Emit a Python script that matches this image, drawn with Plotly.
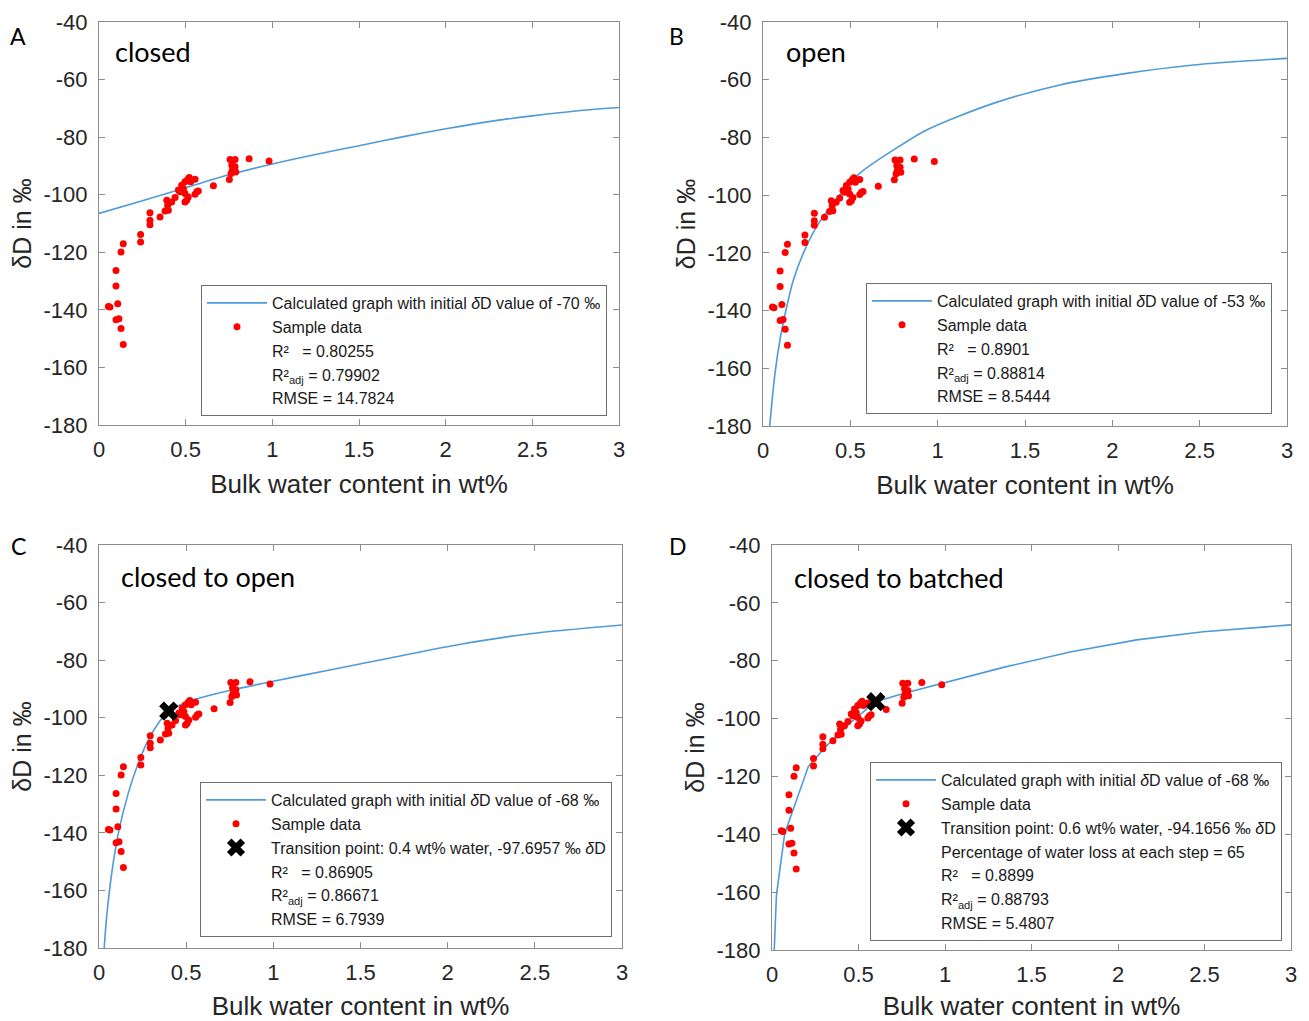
import plotly.graph_objects as go

# ---------------- data ----------------
sample_x = [0.756, 0.785, 0.866, 0.981, 0.766, 0.785, 0.769, 0.789, 0.762, 0.752, 0.660,
            0.512, 0.521, 0.496, 0.529, 0.554, 0.477, 0.487, 0.458, 0.467, 0.496, 0.515,
            0.496, 0.506, 0.564, 0.573, 0.554, 0.439, 0.419, 0.391, 0.396, 0.381, 0.400,
            0.352, 0.294, 0.294, 0.294, 0.240, 0.240, 0.140, 0.127, 0.098, 0.098, 0.108,
            0.063, 0.054, 0.098, 0.115, 0.127, 0.140]
sample_y = [-87.8, -87.8, -87.5, -88.3, -89.7, -90.3, -91.5, -92.1, -92.6, -94.7, -96.9,
            -94.6, -94.0, -95.5, -95.5, -94.6, -96.7, -97.9, -98.4, -99.0, -99.6, -100.8,
            -102.5, -101.9, -99.0, -98.7, -99.8, -101.0, -102.5, -101.9, -103.7, -105.7, -105.4,
            -107.7, -106.3, -108.9, -110.4, -113.8, -116.4, -117.0, -119.9, -126.3, -131.7, -137.9,
            -139.0, -138.8, -143.4, -143.1, -146.5, -152.0]

curve_A_x = [0, 0.25, 0.5, 0.75, 1.0, 1.25, 1.5, 1.75, 2.0, 2.25, 2.5, 2.75, 3.0]
curve_A_y = [-106.5, -102.1, -97.6, -93.1, -89.3, -86.0, -83.0, -79.9, -77.1, -74.6, -72.6, -70.9, -69.7]

curve_B_x = [0.030, 0.040, 0.069, 0.097, 0.136, 0.174, 0.231, 0.307, 0.403, 0.555, 0.746,
             0.937, 1.319, 1.700, 2.082, 2.464, 3.0]
curve_B_y = [-187.0, -179.1, -161.7, -150.2, -138.6, -129.4, -120.1, -110.9, -102.8, -92.4, -84.4,
             -77.4, -68.2, -61.8, -57.8, -54.9, -52.6]

curve_C_x = [0.025, 0.031, 0.044, 0.073, 0.111, 0.168, 0.225, 0.283, 0.340, 0.4, 0.474, 0.551,
             0.742, 0.971, 1.316, 1.698, 2.081, 2.463, 3.0]
curve_C_y = [-184.5, -178.9, -169.1, -154.0, -140.1, -126.2, -115.8, -107.7, -101.9, -97.7, -95.3, -93.6,
             -90.6, -87.7, -83.5, -78.9, -74.4, -70.9, -67.8]

curve_D_x = [0.009, 0.0257, 0.0735, 0.21, 0.297, 0.374, 0.47, 0.6, 0.759, 0.99, 1.337, 1.723,
             2.108, 2.493, 3.0]
curve_D_y = [-186.0, -161.0, -139.7, -116.6, -110.6, -105.9, -100.5, -94.17, -91.3, -87.6, -82.3, -77.0,
             -72.8, -70.0, -67.6]

trans_C = (0.4, -97.6957)
trans_D = (0.6, -94.1656)

x_ticks = [0, 0.5, 1, 1.5, 2, 2.5, 3]
x_tick_text = ["0", "0.5", "1", "1.5", "2", "2.5", "3"]
y_ticks = [-180, -160, -140, -120, -100, -80, -60, -40]
y_tick_text = ["-180", "-160", "-140", "-120", "-100", "-80", "-60", "-40"]

panel_letters = ["A", "B", "C", "D"]
panel_titles = ["closed", "open", "closed to open", "closed to batched"]
initial_values = ["-70", "-53", "-68", "-68"]
stats = [
    ["R²   = 0.80255", "R²<sub>adj</sub> = 0.79902", "RMSE = 14.7824"],
    ["R²   = 0.8901", "R²<sub>adj</sub> = 0.88814", "RMSE = 8.5444"],
    ["R²   = 0.86905", "R²<sub>adj</sub> = 0.86671", "RMSE = 6.7939"],
    ["Percentage of water loss at each step = 65", "R²   = 0.8899",
     "R²<sub>adj</sub> = 0.88793", "RMSE = 5.4807"],
]

# ---------------- layout geometry ----------------
# the page body has an 8px margin, so the figure starts at (8, 8) in the window
OFF = 8
W, H = 1309 - OFF, 1021 - OFF
# pixel boxes (window coords) of the four plot areas (left, right, top, bottom)
boxes = [(99, 619, 22, 425), (763, 1287, 22, 426), (99, 622, 545, 948), (772, 1291, 545, 950)]
legend_pos = [(201, 285), (866, 283), (200, 782), (870, 762)]
letter_pos = [(18, 36), (676, 36), (18, 546), (678, 546)]
title_pos = [(113, 52), (784, 52), (119, 576), (792, 577)]


def fx(px):
    return (px - OFF) / W


def fy(py):
    return 1 - (py - OFF) / H


LINE_BLUE = "#4f9bd9"
AX_GREY = "#8c8c8c"
TXT = "#262626"
FONT = "Liberation Sans, Arial, sans-serif"

fig = go.Figure()

curves = [(curve_A_x, curve_A_y, "spline"), (curve_B_x, curve_B_y, "spline"),
          (curve_C_x, curve_C_y, "spline"), (curve_D_x, curve_D_y, "linear")]
transitions = [None, None, trans_C, trans_D]

for i in range(4):
    sfx = "" if i == 0 else str(i + 1)
    xa, ya = "x" + sfx, "y" + sfx
    lg = "legend" + sfx
    cx, cy, shp = curves[i]
    fig.add_trace(go.Scatter(
        x=cx, y=cy, mode="lines", xaxis=xa, yaxis=ya, legend=lg,
        line=dict(color=LINE_BLUE, width=1.6, shape=shp, smoothing=0.8),
        name="Calculated graph with initial <i>δ</i>D value of " + initial_values[i] + " ‰"))
    fig.add_trace(go.Scatter(
        x=sample_x, y=sample_y, mode="markers", xaxis=xa, yaxis=ya, legend=lg,
        marker=dict(color="#ff0000", size=7), name="Sample data"))
    if transitions[i] is not None:
        tx, ty = transitions[i]
        fig.add_trace(go.Scatter(
            x=[tx], y=[ty], mode="markers", xaxis=xa, yaxis=ya, legend=lg,
            marker=dict(color="black", size=17, symbol="x", line=dict(width=0)),
            name="Transition point: %s wt%% water, %s ‰ <i>δ</i>D" % (tx, ty)))
    for s in stats[i]:
        fig.add_trace(go.Scatter(
            x=[None], y=[None], mode="markers", xaxis=xa, yaxis=ya, legend=lg,
            marker=dict(color="rgba(0,0,0,0)", size=1), name=s))

layout = dict(width=W, height=H, margin=dict(l=0, r=0, t=0, b=0, autoexpand=False),
              paper_bgcolor="white", plot_bgcolor="white", showlegend=True)

for i, (l, r, t, b) in enumerate(boxes):
    sfx = "" if i == 0 else str(i + 1)
    layout["xaxis" + sfx] = dict(
        domain=[fx(l), fx(r)], anchor="y" + sfx, range=[0, 3], automargin=False,
        tickvals=x_ticks, ticktext=x_tick_text, ticks="inside", ticklen=6,
        tickcolor=AX_GREY, showline=True, linecolor=AX_GREY, linewidth=1, mirror="ticks",
        showgrid=False, zeroline=False, ticklabelstandoff=5,
        tickfont=dict(family=FONT, size=22, color=TXT),
        title=dict(text="Bulk water content in wt%", font=dict(family=FONT, size=26, color=TXT),
                   standoff=13))
    layout["yaxis" + sfx] = dict(
        domain=[fy(b), fy(t)], anchor="x" + sfx, range=[-180, -40], automargin=False,
        tickvals=y_ticks, ticktext=y_tick_text, ticks="inside", ticklen=6,
        tickcolor=AX_GREY, showline=True, linecolor=AX_GREY, linewidth=1, mirror="ticks",
        showgrid=False, zeroline=False, ticklabelstandoff=6,
        tickfont=dict(family=FONT, size=22, color=TXT),
        title=dict(text="δD in ‰", font=dict(family=FONT, size=25, color=TXT), standoff=4))
    lx, ly = legend_pos[i]
    layout["legend" + sfx] = dict(
        x=fx(lx), y=fy(ly), xanchor="left", yanchor="top", xref="paper", yref="paper",
        bgcolor="white", bordercolor="#6e6e6e", borderwidth=1, itemwidth=60,
        tracegroupgap=0, font=dict(family=FONT, size=16, color="#1a1a1a"),
        itemclick=False)

annotations = []
for i in range(4):
    px, py = letter_pos[i]
    annotations.append(dict(text=panel_letters[i], x=fx(px), y=fy(py), xref="paper", yref="paper",
                            showarrow=False, xanchor="center", yanchor="middle",
                            font=dict(family="Lato, sans-serif", size=23, color="black")))
    px, py = title_pos[i]
    annotations.append(dict(text=panel_titles[i], x=fx(px), y=fy(py), xref="paper", yref="paper",
                            showarrow=False, xanchor="left", yanchor="middle",
                            font=dict(family="Lato, sans-serif", size=27, color="black")))
layout["annotations"] = annotations

fig.update_layout(**layout)
fig.write_html("out.html")
